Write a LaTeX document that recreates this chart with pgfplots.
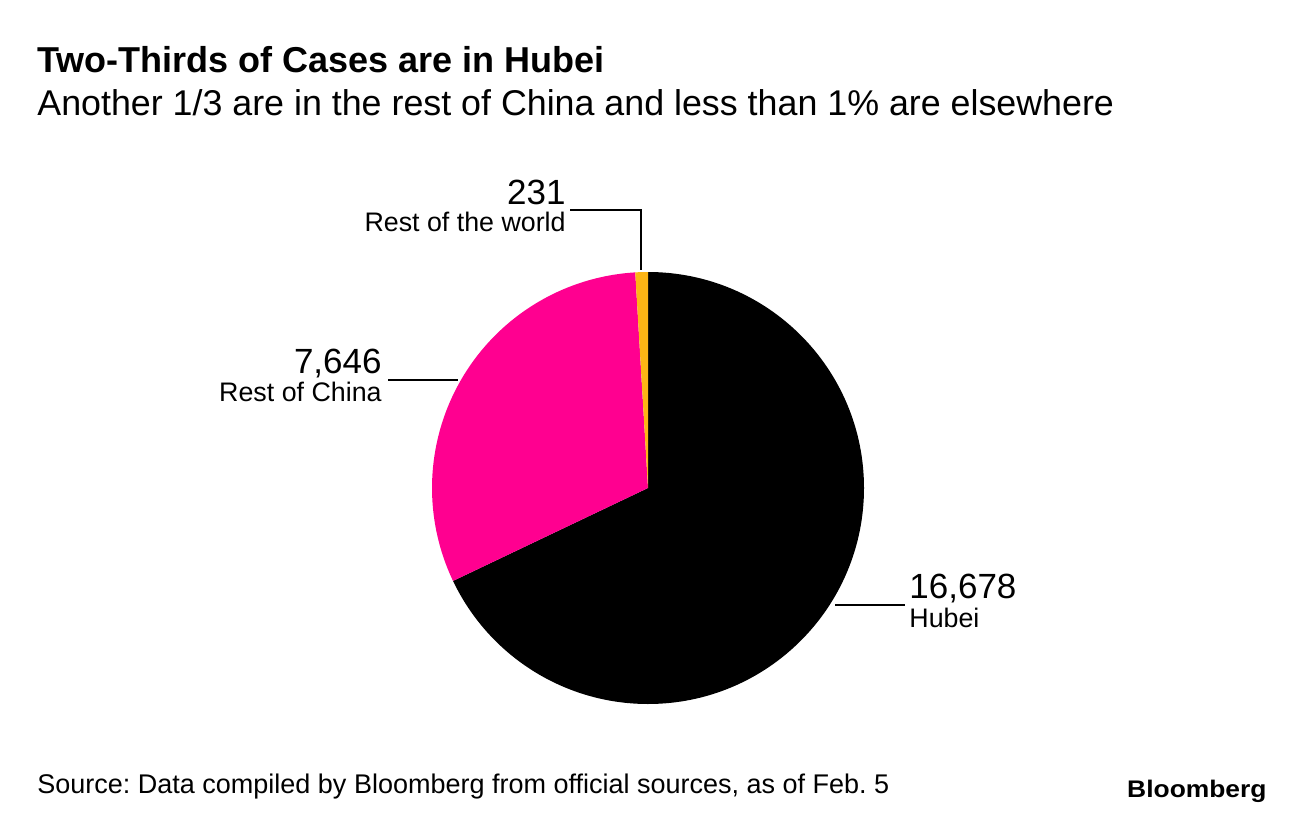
\documentclass[border=0pt]{standalone}
\usepackage{pgfplots}
\pgfplotsset{compat=1.18}
\usepackage{pgfplotstable}
\usepackage{fontspec}
\setmainfont{Liberation Sans}
\frenchspacing

\definecolor{hubei}{HTML}{000000}
\definecolor{china}{HTML}{FF0090}
\definecolor{world}{HTML}{FDB515}

% confirmed cases as of Feb. 5
\pgfplotstableread{
region value
Hubei  16678
China  7646
World  231
}\cases

\pgfplotstablegetelem{0}{value}\of\cases \let\vH\pgfplotsretval
\pgfplotstablegetelem{1}{value}\of\cases \let\vC\pgfplotsretval
\pgfplotstablegetelem{2}{value}\of\cases \let\vW\pgfplotsretval
% sector end angles (fpu, since the total is too big for TeX dimensions)
\pgfkeys{/pgf/fpu=true,/pgf/fpu/output format=fixed}
\pgfmathsetmacro\tot{\vH+\vC+\vW}
\pgfmathsetmacro\eH{90-360*\vH/\tot}
\pgfmathsetmacro\eC{\eH-360*\vC/\tot}
\pgfkeys{/pgf/fpu=false}

\newcommand\cnum[1]{\pgfmathprintnumber[assume math mode=true,1000 sep={,},fixed,precision=0]{#1}}
\newcommand\bignum{\fontsize{17.5}{20}\selectfont}
\newcommand\lab{\fontsize{13.4}{15}\selectfont}

\begin{document}
\begin{tikzpicture}
\begin{axis}[
  at={(0,0)}, anchor=south west,
  width=648pt, height=408pt, scale only axis,
  xmin=0, xmax=1296, ymin=0, ymax=816,
  hide axis, clip=false]
  % pie (radius 216 units = 108pt)
  \fill[hubei] (axis cs:648,328) -- ++(90:108pt) arc[start angle=90, end angle=\eH, radius=108pt] -- cycle;
  \fill[china] (axis cs:648,328) -- ++(\eH:108pt) arc[start angle=\eH, end angle=\eC, radius=108pt] -- cycle;
  \fill[world] (axis cs:648,328) -- ++(\eC:108pt) arc[start angle=\eC, end angle=-270, radius=108pt] -- cycle;

  % leader lines
  \draw[line width=1pt] (axis cs:570,606) -- (axis cs:641,606) -- (axis cs:641,546);
  \draw[line width=1pt] (axis cs:388,436) -- (axis cs:458,436);
  \draw[line width=1pt] (axis cs:835,211) -- (axis cs:905,211);

  % labels
  \node[anchor=base east, inner sep=0pt, font=\bignum] at (axis cs:566,611) {\cnum{\vW}};
  \node[anchor=base east, inner sep=0pt, font=\lab] at (axis cs:566,585) {Rest of the world};
  \node[anchor=base east, inner sep=0pt, font=\bignum] at (axis cs:382,443) {\cnum{\vC}};
  \node[anchor=base east, inner sep=0pt, font=\lab] at (axis cs:382,415) {Rest of China};
  \node[anchor=base west, inner sep=0pt, font=\bignum] at (axis cs:909,218) {\cnum{\vH}};
  \node[anchor=base west, inner sep=0pt, font=\lab] at (axis cs:909,189) {Hubei};

  % titles
  \node[anchor=base west, inner sep=0pt, font=\bfseries\fontsize{18}{21}\selectfont] at (axis cs:37,743) {Two-Thirds of Cases are in Hubei};
  \node[anchor=base west, inner sep=0pt, font=\fontsize{17.9}{20}\selectfont] at (axis cs:37,700) {Another 1/3 are in the rest of China and less than 1\% are elsewhere};
  \node[anchor=base west, inner sep=0pt, font=\fontsize{13.5}{16}\selectfont] at (axis cs:37,23) {Source: Data compiled by Bloomberg from official sources, as of Feb. 5};
  \node[anchor=base east, inner sep=0pt, xscale=1.1, font=\bfseries\fontsize{12}{14}\selectfont] at (axis cs:1267,19) {Bloomberg};
  \path (axis cs:0,0) rectangle (axis cs:1296,816);
\end{axis}
\end{tikzpicture}
\end{document}
